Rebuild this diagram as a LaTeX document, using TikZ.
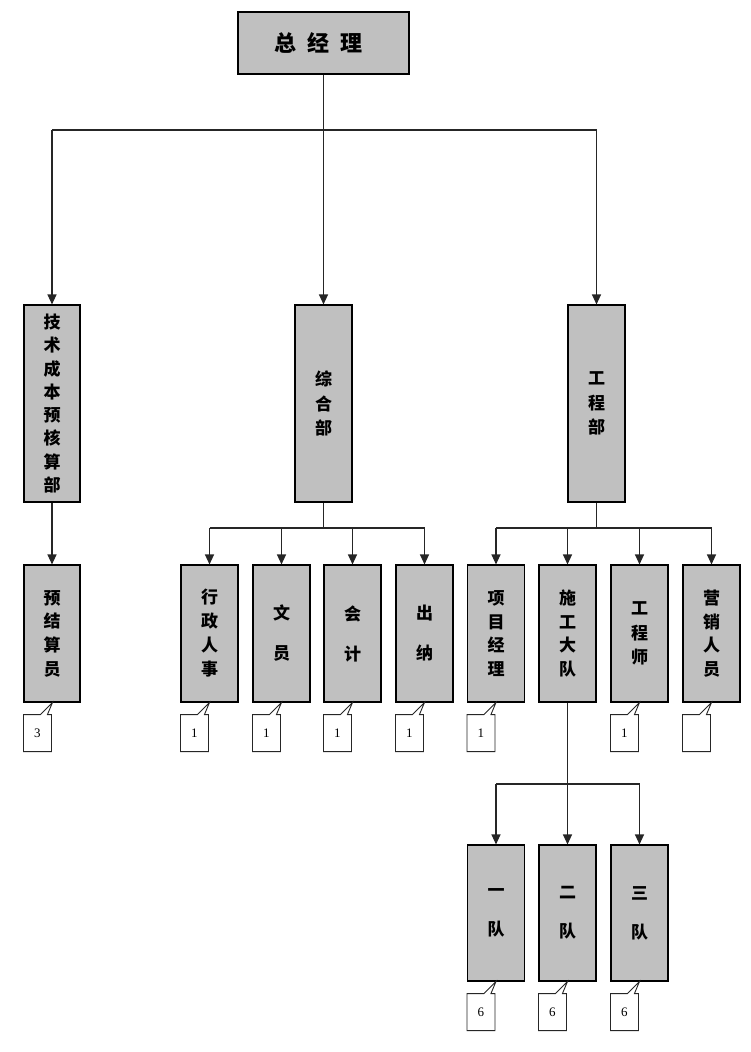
\documentclass[tikz,border=0pt]{standalone}
\usepackage{fontspec}
\newfontfamily\cjk{Noto Sans CJK SC}
\newfontfamily\numfont{Liberation Serif}
\usetikzlibrary{arrows.meta,calc}
\definecolor{boxgray}{HTML}{C0C0C0}
\tikzset{
  gbox/.style={draw=black, line width=1.1pt, fill=boxgray, inner sep=0pt, align=center},
  vt/.style={font=\cjk\bfseries\fontsize{17}{#1}\selectfont},
  conn/.style={draw=black!85, line width=1.2pt},
  arr/.style={conn, -{Triangle[length=10pt,width=9pt]}},
  cl/.style={draw=black!85, line width=0.9pt, fill=white},
  num/.style={font=\numfont\fontsize{13}{13}\selectfont, inner sep=0pt}
}
\newcommand\callout[3]{%
  \draw[cl] ($(#1.south west)+(0,12)$) -- ++(17,0) -- ($(#1.south west)+(29,0)$)
    -- ($(#1.south west)+(24,12)$) -- ++(4,0) -- ++(0,37) -- ++(-28,0) -- cycle;
  \node[num] (#3) at ($(#1.south west)+(14,31)$) {#2};}
\begin{document}
\begin{tikzpicture}[x=1pt,y=-1pt]
\useasboundingbox (0,0) rectangle (750,1052);
% top
\node[gbox, minimum width=171, minimum height=62, font=\cjk\bfseries\fontsize{22}{22}\selectfont] (gm) at (323.5,43) {总\hspace{11pt}经\hspace{11pt}理\hspace*{10pt}};
% level 1
\node[gbox, minimum width=56, minimum height=197, vt=23.3] (tech) at (52,403.5) {技\\术\\成\\本\\预\\核\\算\\部};
\node[gbox, minimum width=57, minimum height=197, vt=24.5] (zh) at (323.5,403.5) {综\\合\\部};
\node[gbox, minimum width=57, minimum height=197, vt=24.5] (eng) at (596.5,403.5) {工\\程\\部};
% level 2
\node[gbox, minimum width=56, minimum height=137, vt=23.7] (yjs) at (52,633.5) {预\\结\\算\\员};
\node[gbox, minimum width=57, minimum height=137, vt=24] (xz) at (209.5,633.5) {行\\政\\人\\事};
\node[gbox, minimum width=57, minimum height=137, vt=40] (wy) at (281.5,633.5) {文\\员};
\node[gbox, minimum width=57, minimum height=137, vt=40] (kj) at (352.5,633.5) {会\\计};
\node[gbox, minimum width=57, minimum height=137, vt=40] (cn) at (424.5,633.5) {出\\纳};
\node[gbox, minimum width=57, minimum height=137, vt=23.7] (xm) at (496,633.5) {项\\目\\经\\理};
\node[gbox, minimum width=57, minimum height=137, vt=23.7] (sg) at (567.5,633.5) {施\\工\\大\\队};
\node[gbox, minimum width=57, minimum height=137, vt=24.5] (gcs) at (639.5,633.5) {工\\程\\师};
\node[gbox, minimum width=57, minimum height=137, vt=23.7] (yx) at (711.5,633.5) {营\\销\\人\\员};
% level 3
\node[gbox, minimum width=57, minimum height=136, vt=39] (d1) at (496,913) {一\\队};
\node[gbox, minimum width=57, minimum height=136, vt=39] (d2) at (567.5,913) {二\\队};
\node[gbox, minimum width=57, minimum height=136, vt=39] (d3) at (639.5,913) {三\\队};
% connectors top
\coordinate (b1) at (0,130);
\draw[conn] (gm.south) -- (gm.south |- b1);
\draw[conn] (tech.north |- b1) -- (eng.north |- b1);
\draw[arr] (tech.north |- b1) -- (tech.north);
\draw[arr] (zh.north |- b1) -- (zh.north);
\draw[arr] (eng.north |- b1) -- (eng.north);
% tech -> yjs
\draw[arr] (tech.south) -- (yjs.north);
% zh bus
\coordinate (b2) at (0,528);
\draw[conn] (zh.south) -- (zh.south |- b2);
\draw[conn] (xz.north |- b2) -- (cn.north |- b2);
\foreach \n in {xz,wy,kj,cn} \draw[arr] (\n.north |- b2) -- (\n.north);
% eng bus
\draw[conn] (eng.south) -- (eng.south |- b2);
\draw[conn] (xm.north |- b2) -- (yx.north |- b2);
\foreach \n in {xm,sg,gcs,yx} \draw[arr] (\n.north |- b2) -- (\n.north);
% sg bus
\coordinate (b3) at (0,784);
\draw[conn] (sg.south) -- (sg.south |- b3);
\draw[conn] (d1.north |- b3) -- (d3.north |- b3);
\foreach \n in {d1,d2,d3} \draw[arr] (\n.north |- b3) -- (\n.north);
% callouts
\callout{yjs}{3}{c1}
\callout{xz}{1}{c2}
\callout{wy}{1}{c3}
\callout{kj}{1}{c4}
\callout{cn}{1}{c5}
\callout{xm}{1}{c6}
\callout{gcs}{1}{c7}
\callout{yx}{}{c8}
\callout{d1}{6}{c9}
\callout{d2}{6}{c10}
\callout{d3}{6}{c11}
\end{tikzpicture}
\end{document}
